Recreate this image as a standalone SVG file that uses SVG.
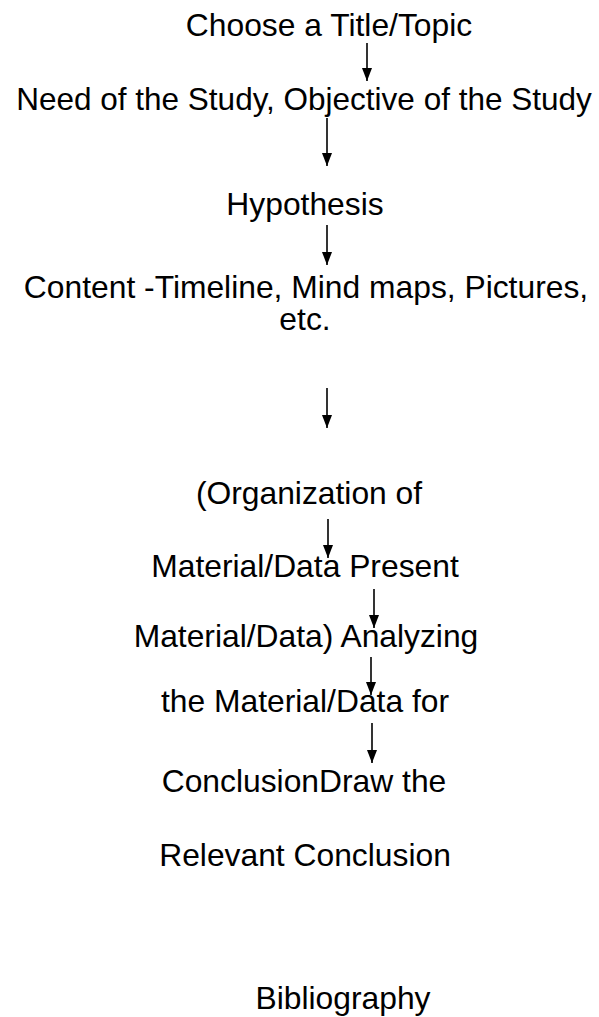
<svg xmlns="http://www.w3.org/2000/svg" width="599" height="1017" viewBox="0 0 599 1017">
<style>
text{font-family:"Liberation Sans",Arial,sans-serif;font-size:31.8px;fill:#000;text-anchor:middle}
.c{stroke:#000;stroke-width:1.6;fill:none}
</style>
<defs>
<marker id="ah" markerWidth="13" markerHeight="10" refX="13" refY="5" orient="auto" markerUnits="userSpaceOnUse" viewBox="0 0 13 10">
<path d="M0,0 L13,5 L0,10 Z" fill="#000"/>
</marker>
</defs>
<rect width="599" height="1017" fill="#fff"/>
<g id="connectors">
<path class="c" d="M367,43 V81" marker-end="url(#ah)"/>
<path class="c" d="M327,118 V166" marker-end="url(#ah)"/>
<path class="c" d="M327,225 V265" marker-end="url(#ah)"/>
<path class="c" d="M327,388 V428" marker-end="url(#ah)"/>
<path class="c" d="M328,519 V558" marker-end="url(#ah)"/>
<path class="c" d="M374,589 V628" marker-end="url(#ah)"/>
<path class="c" d="M371,657 V695" marker-end="url(#ah)"/>
<path class="c" d="M372,723 V763" marker-end="url(#ah)"/>
</g>
<g id="n1"><text x="329" y="36">Choose a Title/Topic</text></g>
<g id="n2"><text x="304" y="110" style="font-size:31.5px">Need of the Study, Objective of the Study</text></g>
<g id="n3"><text x="305" y="215">Hypothesis</text></g>
<g id="n4"><text x="306" y="298">Content -Timeline, Mind maps, Pictures,</text><text x="305" y="330">etc.</text></g>
<g id="n5"><text x="309" y="504">(Organization of</text></g>
<g id="n6"><text x="305" y="577">Material/Data Present</text></g>
<g id="n7"><text x="306" y="647">Material/Data) Analyzing</text></g>
<g id="n8"><text x="305" y="712">the Material/Data for</text></g>
<g id="n9"><text x="304" y="792">ConclusionDraw the</text></g>
<g id="n10"><text x="305" y="866">Relevant Conclusion</text></g>
<g id="n11"><text x="343" y="1009">Bibliography</text></g>
</svg>
